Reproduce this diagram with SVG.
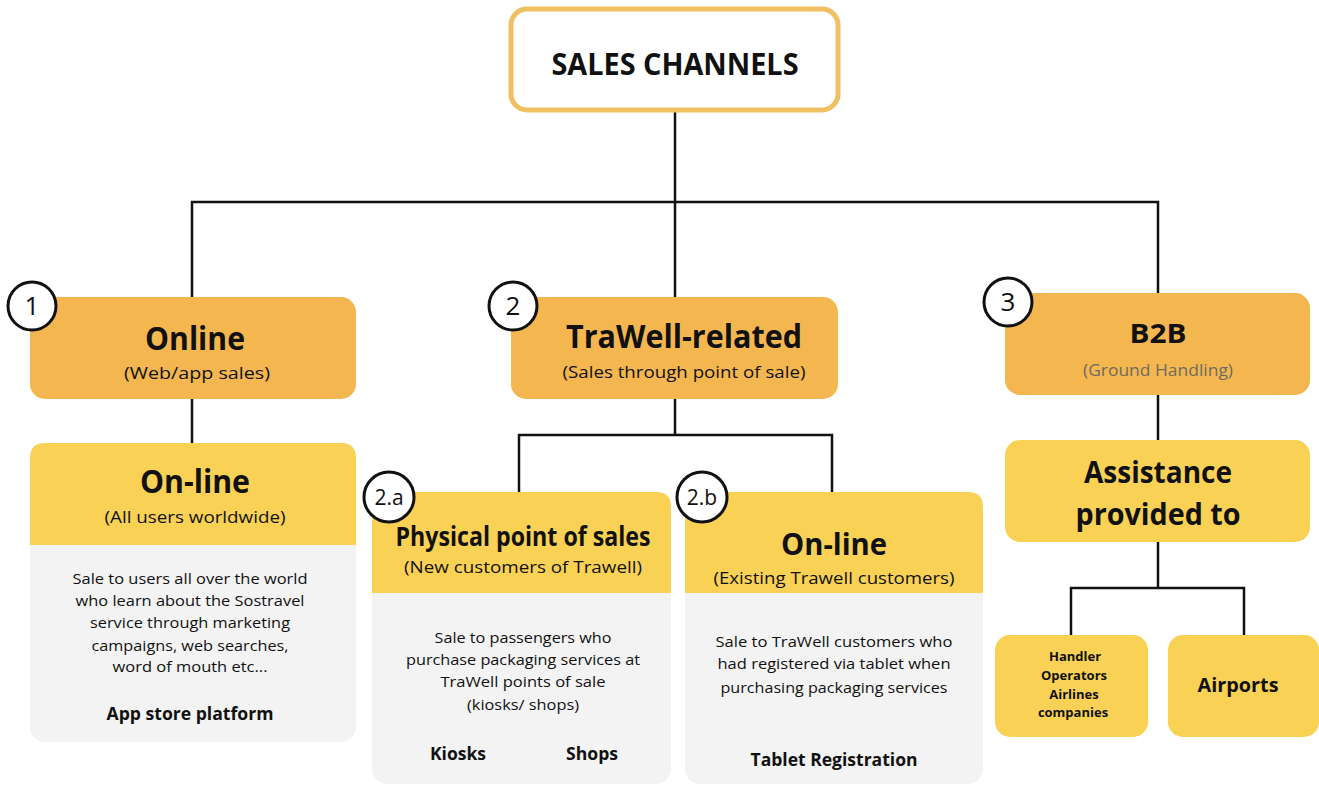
<svg xmlns="http://www.w3.org/2000/svg" width="1319" height="785" viewBox="0 0 1319 785">
<style>
.t{font-family:"Open Sans","Liberation Sans",sans-serif;fill:#111;text-anchor:middle}
.b{font-weight:bold}
.orange{fill:#f4b74f}
.yellow{fill:#f9d155}
.gray{fill:#f3f3f3}
.conn{fill:none;stroke:#111;stroke-width:2.5}
.badge{fill:#fff;stroke:#111;stroke-width:3}
</style>
<rect width="1319" height="785" fill="#fff"/>
<g id="connectors">
<path class="conn" d="M675 110V202M192 297V202H1158V293M675 202V297"/>
<path class="conn" d="M192 399V443"/>
<path class="conn" d="M675 399V435M519 492V435H832V492"/>
<path class="conn" d="M1158 395V440M1158 542V588M1071 635V588H1244V635"/>
</g>
<g id="sales-channels">
<rect x="511" y="9" width="327" height="101" rx="16" fill="#fff" stroke="#f0c063" stroke-width="5"/>
<text class="t b" x="675" y="75" font-size="30" textLength="247" lengthAdjust="spacingAndGlyphs">SALES CHANNELS</text>
</g>
<g id="online">
<rect class="orange" x="30" y="297" width="326" height="102" rx="15"/>
<text class="t b" x="195" y="350" font-size="32" textLength="100" lengthAdjust="spacingAndGlyphs">Online</text>
<text class="t" x="197" y="379" font-size="16" textLength="146" lengthAdjust="spacingAndGlyphs">(Web/app sales)</text>
<circle class="badge" cx="32" cy="306" r="24"/>
<text class="t" x="32" y="315" font-size="26">1</text>
</g>
<g id="online-worldwide">
<rect class="gray" x="30" y="443" width="326" height="299" rx="15"/>
<path class="yellow" d="M30 545V458Q30 443 45 443H341Q356 443 356 458V545Z"/>
<text class="t b" x="195" y="493" font-size="32" textLength="110" lengthAdjust="spacingAndGlyphs">On-line</text>
<text class="t" x="195" y="523" font-size="17" textLength="181" lengthAdjust="spacingAndGlyphs">(All users worldwide)</text>
<text class="t" x="190" y="584" font-size="15" textLength="235" lengthAdjust="spacingAndGlyphs">Sale to users all over the world</text>
<text class="t" x="190" y="606" font-size="15" textLength="229" lengthAdjust="spacingAndGlyphs">who learn about the Sostravel</text>
<text class="t" x="190" y="628" font-size="15" textLength="200" lengthAdjust="spacingAndGlyphs">service through marketing</text>
<text class="t" x="190" y="651" font-size="15" textLength="197" lengthAdjust="spacingAndGlyphs">campaigns, web searches,</text>
<text class="t" x="190" y="672" font-size="15" textLength="155" lengthAdjust="spacingAndGlyphs">word of mouth etc...</text>
<text class="t b" x="190" y="720" font-size="17" textLength="167" lengthAdjust="spacingAndGlyphs">App store platform</text>
</g>
<g id="trawell-related">
<rect class="orange" x="511" y="297" width="327" height="102" rx="15"/>
<text class="t b" x="684" y="348" font-size="32" textLength="236" lengthAdjust="spacingAndGlyphs">TraWell-related</text>
<text class="t" x="684" y="378" font-size="17" textLength="243" lengthAdjust="spacingAndGlyphs">(Sales through point of sale)</text>
<circle class="badge" cx="513" cy="306" r="24"/>
<text class="t" x="513" y="315" font-size="26">2</text>
</g>
<g id="physical-point">
<rect class="gray" x="372" y="492" width="299" height="292" rx="15"/>
<path class="yellow" d="M372 593V507Q372 492 387 492H656Q671 492 671 507V593Z"/>
<text class="t b" x="523" y="546" font-size="26" textLength="255" lengthAdjust="spacingAndGlyphs">Physical point of sales</text>
<text class="t" x="523" y="573" font-size="17" textLength="238" lengthAdjust="spacingAndGlyphs">(New customers of Trawell)</text>
<text class="t" x="523" y="643" font-size="15" textLength="177" lengthAdjust="spacingAndGlyphs">Sale to passengers who</text>
<text class="t" x="523" y="665" font-size="15" textLength="234" lengthAdjust="spacingAndGlyphs">purchase packaging services at</text>
<text class="t" x="523" y="687" font-size="15" textLength="165" lengthAdjust="spacingAndGlyphs">TraWell points of sale</text>
<text class="t" x="523" y="710" font-size="15" textLength="112" lengthAdjust="spacingAndGlyphs">(kiosks/ shops)</text>
<text class="t b" x="458" y="760" font-size="18" textLength="56" lengthAdjust="spacingAndGlyphs">Kiosks</text>
<text class="t b" x="592" y="760" font-size="18" textLength="52" lengthAdjust="spacingAndGlyphs">Shops</text>
<circle class="badge" cx="389" cy="497" r="25"/>
<text class="t" x="389" y="505" font-size="21">2.a</text>
</g>
<g id="online-existing">
<rect class="gray" x="685" y="492" width="298" height="292" rx="15"/>
<path class="yellow" d="M685 593V507Q685 492 700 492H968Q983 492 983 507V593Z"/>
<text class="t b" x="834" y="555" font-size="31" textLength="106" lengthAdjust="spacingAndGlyphs">On-line</text>
<text class="t" x="834" y="584" font-size="17" textLength="241" lengthAdjust="spacingAndGlyphs">(Existing Trawell customers)</text>
<text class="t" x="834" y="647" font-size="15" textLength="237" lengthAdjust="spacingAndGlyphs">Sale to TraWell customers who</text>
<text class="t" x="834" y="669" font-size="15" textLength="233" lengthAdjust="spacingAndGlyphs">had registered via tablet when</text>
<text class="t" x="834" y="693" font-size="15" textLength="227" lengthAdjust="spacingAndGlyphs">purchasing packaging services</text>
<text class="t b" x="834" y="766" font-size="18" textLength="167" lengthAdjust="spacingAndGlyphs">Tablet Registration</text>
<circle class="badge" cx="702" cy="497" r="25"/>
<text class="t" x="702" y="505" font-size="21">2.b</text>
</g>
<g id="b2b">
<rect class="orange" x="1005" y="293" width="305" height="102" rx="15"/>
<text class="t b" x="1158" y="343" font-size="27" textLength="57" lengthAdjust="spacingAndGlyphs">B2B</text>
<text class="t" x="1158" y="376" font-size="16" style="fill:#6f6a60" textLength="150" lengthAdjust="spacingAndGlyphs">(Ground Handling)</text>
<circle class="badge" cx="1008" cy="302" r="24"/>
<text class="t" x="1008" y="311" font-size="26">3</text>
</g>
<g id="assistance">
<rect class="yellow" x="1005" y="440" width="305" height="102" rx="15"/>
<text class="t b" x="1158" y="483" font-size="31" textLength="148" lengthAdjust="spacingAndGlyphs">Assistance</text>
<text class="t b" x="1158" y="525" font-size="31" textLength="165" lengthAdjust="spacingAndGlyphs">provided to</text>
</g>
<g id="handlers">
<rect class="yellow" x="995" y="635" width="153" height="102" rx="15"/>
<text class="t b" x="1075" y="661" font-size="13">Handler</text>
<text class="t b" x="1074" y="680" font-size="13">Operators</text>
<text class="t b" x="1074" y="699" font-size="13">Airlines</text>
<text class="t b" x="1073" y="717" font-size="13">companies</text>
</g>
<g id="airports">
<rect class="yellow" x="1168" y="635" width="151" height="102" rx="15"/>
<text class="t b" x="1238" y="692" font-size="20" textLength="81" lengthAdjust="spacingAndGlyphs">Airports</text>
</g>
</svg>
